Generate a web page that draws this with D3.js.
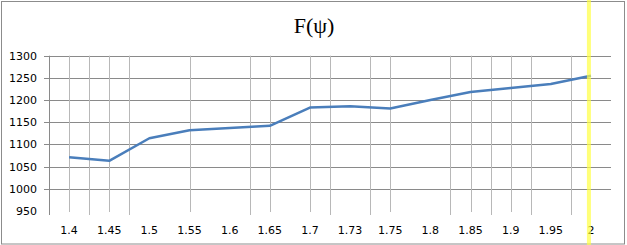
<!doctype html>
<html>
<head>
    <script src="https://d3js.org/d3.v7.min.js"></script>
    <style>
        body { margin: 0; background: #fff; }
        svg text.tick { font: 11px "DejaVu Sans", sans-serif; fill: #000; }
        svg text.title { font: 22px "Liberation Serif", "Times New Roman", serif; fill: #000; }
    </style>
</head>
<body>
<script>
    // categories along the bottom and the values of F(psi) for each of them
    let categories = ["1.4", "1.45", "1.5", "1.55", "1.6", "1.65", "1.7", "1.73", "1.75", "1.8", "1.85", "1.9", "1.95", "2"];
    let values = [1071, 1063, 1114, 1132, 1137, 1142, 1183, 1186, 1181, 1200, 1218, 1227, 1236, 1255];
    let yTicks = [950, 1000, 1050, 1100, 1150, 1200, 1250, 1300];
    // vertical gridlines, in category units (boundaries carry a tick mark, centres do not)
    let gridBounds = [0, 1, 2, 5, 7, 8, 10, 11, 12, 13];
    let gridCentres = [0.5, 1.5, 3.5, 5.5, 6.5, 8.5, 10.5, 11.5];
    let highlightAt = 13.45;

    let width = 627, height = 245;
    let plotLeft = 49, plotRight = 611, plotTop = 55.7, plotBottom = 211;

    let svg = d3.select("body").append("svg")
        .attr("width", width)
        .attr("height", height);

    // outer frame
    svg.append("rect")
        .attr("x", 1.5).attr("y", 1.5)
        .attr("width", 623).attr("height", 242.5)
        .attr("fill", "none")
        .attr("stroke", "#8c8c8c");

    let x = d3.scaleLinear().domain([0, categories.length]).range([plotLeft, plotRight]);
    let y = d3.scaleLinear().domain([950, 1300]).range([plotBottom, plotTop]);

    // horizontal gridlines (none at the bottom value)
    svg.append("g").selectAll("line")
        .data(yTicks.filter(d => d > 950))
        .enter().append("line")
        .attr("x1", plotLeft - 5).attr("x2", plotRight)
        .attr("y1", d => Math.round(y(d)) + 0.5)
        .attr("y2", d => Math.round(y(d)) + 0.5)
        .attr("stroke", "#8a8a8a");

    // vertical gridlines
    svg.append("g").selectAll("line")
        .data(gridCentres)
        .enter().append("line")
        .attr("x1", d => Math.round(x(d)) + 0.5)
        .attr("x2", d => Math.round(x(d)) + 0.5)
        .attr("y1", plotTop).attr("y2", plotBottom + 1)
        .attr("stroke", "#b8b8b8");

    svg.append("g").selectAll("line")
        .data(gridBounds)
        .enter().append("line")
        .attr("x1", d => Math.round(x(d)) + 0.5)
        .attr("x2", d => Math.round(x(d)) + 0.5)
        .attr("y1", plotTop).attr("y2", plotBottom + 4)
        .attr("stroke", d => d === 0 ? "#8a8a8a" : "#b8b8b8");

    // y labels
    svg.append("g").selectAll("text")
        .data(yTicks)
        .enter().append("text")
        .attr("class", "tick")
        .attr("x", 37)
        .attr("y", d => y(d))
        .attr("dy", "0.36em")
        .attr("text-anchor", "end")
        .text(d => d);

    // x labels
    svg.append("g").selectAll("text")
        .data(categories)
        .enter().append("text")
        .attr("class", "tick")
        .attr("x", (d, i) => x(i + 0.5))
        .attr("y", 234)
        .attr("text-anchor", "middle")
        .text(d => d);

    // the data line
    let line = d3.line()
        .x((d, i) => x(i + 0.5))
        .y(d => y(d));

    svg.append("path")
        .datum(values)
        .attr("d", line)
        .attr("fill", "none")
        .attr("stroke", "#4a7ebb")
        .attr("stroke-width", 2.5)
        .attr("stroke-linejoin", "round");

    // highlight stripe, laid over the line
    svg.append("rect")
        .attr("x", x(highlightAt) - 2).attr("y", 0)
        .attr("width", 4).attr("height", height)
        .attr("fill", "#ffff40")
        .attr("opacity", 0.7);

    // title
    svg.append("text")
        .attr("class", "title")
        .attr("x", 314)
        .attr("y", 33)
        .attr("text-anchor", "middle")
        .text("F(\u03c8)");
</script>
</body>
</html>
